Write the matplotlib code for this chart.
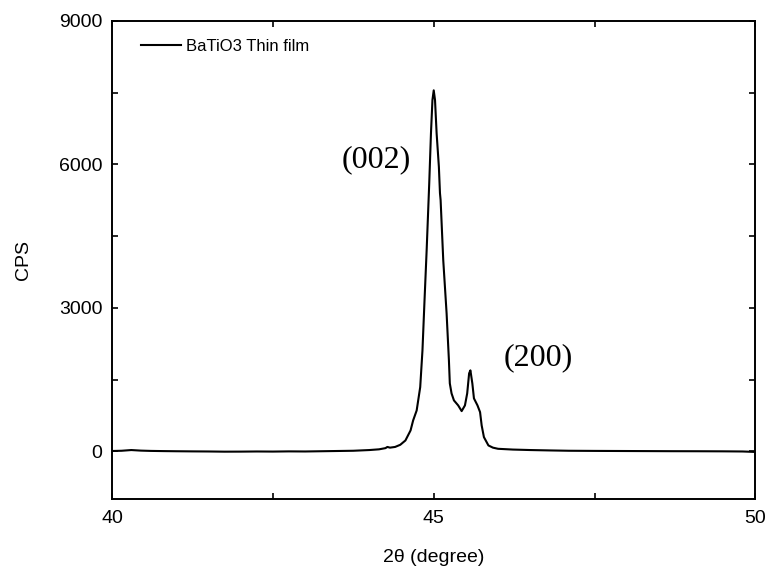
import matplotlib.pyplot as plt
from matplotlib.ticker import MultipleLocator

# XRD scan (2theta in degrees, intensity in CPS)
two_theta = [
    40.00, 40.15, 40.30, 40.45, 40.60, 40.80, 41.00, 41.25, 41.50, 41.75,
    42.00, 42.25, 42.50, 42.75, 43.00, 43.25, 43.50, 43.75, 44.00, 44.15,
    44.25, 44.28, 44.32, 44.40, 44.48, 44.56, 44.64, 44.68, 44.735, 44.79,
    44.825, 44.857, 44.89, 44.93, 44.957, 44.98, 45.00, 45.02, 45.045, 45.08,
    45.097, 45.107, 45.148, 45.20, 45.236, 45.25, 45.277, 45.314, 45.38, 45.434,
    45.485, 45.52, 45.55, 45.57, 45.60, 45.625, 45.68, 45.72, 45.745, 45.78,
    45.85, 45.92, 46.00, 46.23, 46.50, 46.80, 47.10, 47.50, 47.90, 48.30,
    48.70, 49.10, 49.50, 49.80, 50.00,
]
cps = [
    10, 15, 30, 18, 12, 8, 5, 2, 0, -4,
    -3, 0, -2, 2, 0, 5, 10, 15, 30, 45,
    70, 95, 80, 95, 140, 230, 440, 649, 858, 1346,
    2114, 3161, 4208, 5603, 6650, 7347, 7550, 7347, 6650, 5951,
    5400, 5255, 3998, 2889, 1905, 1423, 1214, 1068, 963, 844,
    963, 1214, 1633, 1696, 1423, 1110, 963, 823, 544, 300,
    126, 80, 56, 40, 30, 22, 15, 12, 10, 8,
    6, 5, 3, 0, -10,
]

series_label = "BaTiO3 Thin film"
peak_labels = ["(002)", "(200)"]
peak_label_pos = [(44.10, 6090), (46.62, 1970)]

plt.rcParams["font.family"] = ["Liberation Sans", "DejaVu Sans"]

fig = plt.figure(figsize=(7.68, 5.73), dpi=100)
ax = fig.add_axes([0.1458, 0.1286, 0.8379, 0.8348])

ax.plot(two_theta, cps, color="black", linewidth=1.5, label=series_label)

ax.set_xlim(40, 50)
ax.set_ylim(-1000, 9000)
ax.xaxis.set_major_locator(MultipleLocator(5))
ax.xaxis.set_minor_locator(MultipleLocator(2.5))
ax.yaxis.set_major_locator(MultipleLocator(3000))
ax.yaxis.set_minor_locator(MultipleLocator(1500))

ax.tick_params(which="both", direction="in", top=True, right=True,
               width=1.2, length=4)
ax.tick_params(axis="x", which="major", labelsize=14, pad=8)
ax.tick_params(axis="y", which="major", labelsize=14, pad=7)
for sp in ax.spines.values():
    sp.set_linewidth(1.4)

ax.set_xlabel("2\u03b8 (degree)", fontsize=14)
ax.set_ylabel("CPS", fontsize=14)
ax.xaxis.set_label_coords(0.5, -0.103)
ax.yaxis.set_label_coords(-0.125, 0.5)

for txt, (px, py) in zip(peak_labels, peak_label_pos):
    ax.text(px, py, txt, fontsize=23, family="Liberation Serif",
            ha="center", va="center")

ax.legend(loc="center left", bbox_to_anchor=(0.045, 0.946), frameon=False,
          fontsize=12, handlelength=2.4, handletextpad=0.3,
          borderpad=0, borderaxespad=0)

fig.savefig("out.png", dpi=100)
